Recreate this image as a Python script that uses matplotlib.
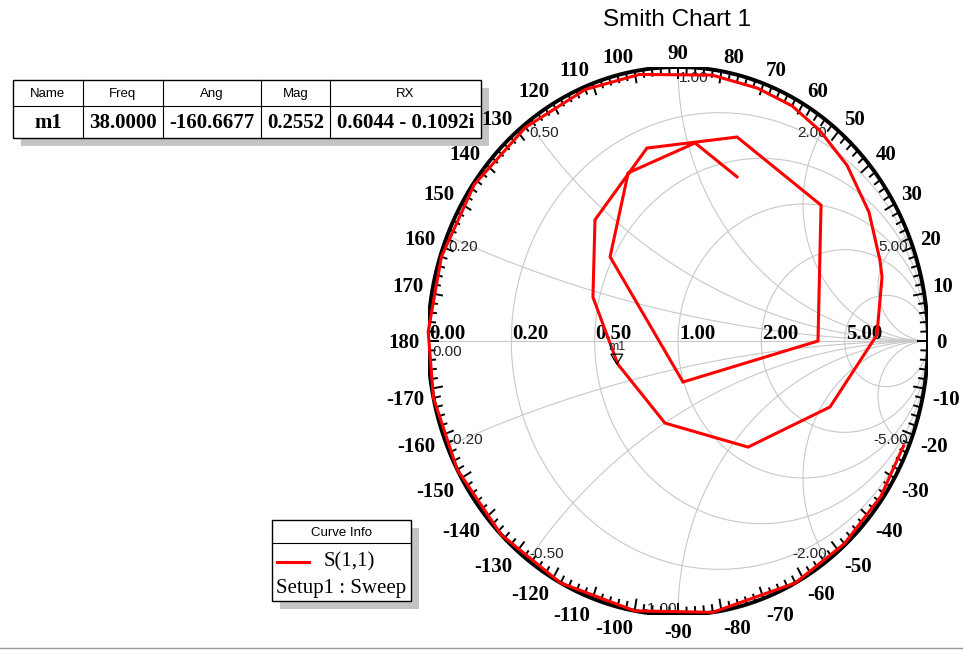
import numpy as np
import matplotlib.pyplot as plt
from matplotlib.patches import Rectangle, Polygon
from matplotlib.collections import LineCollection

# S(1,1) trace, vertices (|S11|, angle in degrees)
s11_mag = [0.98, 0.99, 0.995, 1.0, 1.0, 1.0, 1.0, 1.0, 1.0, 1.0, 1.0, 0.995, 0.995,
           0.99, 0.99, 0.985, 0.98, 0.976, 0.972, 0.955, 0.932, 0.897, 0.86, 0.849,
           0.796, 0.654, 0.478, 0.304, 0.2552, 0.376, 0.553, 0.715, 0.781, 0.757,
           0.56, 0.151, 0.41, 0.645, 0.726, 0.644]
s11_ang = [-23, -35, -48, -62, -82, -100, -118, -135, -152, -168, 178, 162, 145,
           128, 112, 99, 82, 71, 62, 53.6, 43.5, 31.6, 20.1, 16,
           1.6, -21.6, -54.1, -99.9, -160.6677, 154.8, 126.9, 100, 72.4, 40.9,
           0, -82.4, 131.5, 108, 84.6, 68.5]

# marker m1
m1_mag = 0.2552
m1_ang = -160.6677

# marker table
table_header = ["Name", "Freq", "Ang", "Mag", "RX"]
table_row = ["m1", "38.0000", "-160.6677", "0.2552", "0.6044 - 0.1092i"]

# smith grid
r_vals = [0.2, 0.5, 1.0, 2.0, 5.0]
x_vals = [0.2, 0.5, 1.0, 2.0, 5.0, -0.2, -0.5, -1.0, -2.0, -5.0]
angle_labels = list(range(-170, 190, 10))

W, H = 970, 650
cx, cy, rx, ry = 678, 341, 250, 274
GRID = '#c8c8c8'
SANS = 'Liberation Sans'
SERIF = 'Liberation Serif'

fig = plt.figure(figsize=(W / 100, H / 100), dpi=100)

# overlay in pixel coords for table, legend, title
ax0 = fig.add_axes([0, 0, 1, 1])
ax0.set_xlim(0, W)
ax0.set_ylim(H, 0)
ax0.axis('off')

ax0.text(677, 20, "Smith Chart 1", ha='center', va='center', fontsize=17.5, family=SANS)
ax0.plot([0, 962], [648, 648], color='#9a9a9a', lw=1)

# marker table
col_x = [13, 83, 163, 261, 330, 481]
t_top, t_mid, t_bot = 80, 106, 138
ax0.add_patch(Rectangle((col_x[0] + 8, t_top + 8), col_x[-1] - col_x[0], t_bot - t_top,
                        facecolor='#c4c4c4', edgecolor='none'))
ax0.add_patch(Rectangle((col_x[0], t_top), col_x[-1] - col_x[0], t_bot - t_top,
                        facecolor='white', edgecolor='black', lw=1))
ax0.plot([col_x[0], col_x[-1]], [t_mid, t_mid], color='black', lw=0.8)
for xc in col_x[1:-1]:
    ax0.plot([xc, xc], [t_top, t_bot], color='black', lw=0.8)
for i in range(len(table_header)):
    xm = (col_x[i] + col_x[i + 1]) / 2
    ax0.text(xm, (t_top + t_mid) / 2 + 1, table_header[i], ha='center', va='center',
             fontsize=9.5, family=SANS)
    ax0.text(xm, (t_mid + t_bot) / 2 + 1, table_row[i], ha='center', va='center',
             fontsize=15, family=SERIF, fontweight='bold')

# curve info box
l_x0, l_x1, l_top, l_mid, l_bot = 272, 411, 520, 543, 601
ax0.add_patch(Rectangle((l_x0 + 8, l_top + 8), l_x1 - l_x0, l_bot - l_top,
                        facecolor='#c4c4c4', edgecolor='none'))
ax0.add_patch(Rectangle((l_x0, l_top), l_x1 - l_x0, l_bot - l_top,
                        facecolor='white', edgecolor='black', lw=1))
ax0.plot([l_x0, l_x1], [l_mid, l_mid], color='black', lw=0.8)
ax0.text((l_x0 + l_x1) / 2, (l_top + l_mid) / 2 + 1, "Curve Info", ha='center',
         va='center', fontsize=9.5, family=SANS)
ax0.plot([277, 309], [562, 562], color='red', lw=2.2)
ax0.text(349, 562, "S(1,1)", ha='center', va='center', fontsize=15, family=SERIF)
ax0.text(341, 588, "Setup1 : Sweep", ha='center', va='center', fontsize=15, family=SERIF)

# smith chart axes, elliptical like the reference
ax = fig.add_axes([(cx - rx) / W, 1 - (cy + ry) / H, 2 * rx / W, 2 * ry / H])
ax.set_xlim(-1, 1)
ax.set_ylim(-1, 1)
ax.axis('off')

t = np.linspace(0, 2 * np.pi, 721)
for r in r_vals:
    c0, rad = r / (1 + r), 1 / (1 + r)
    ax.plot(c0 + rad * np.cos(t), rad * np.sin(t), color=GRID, lw=0.8, zorder=1)
rr = np.concatenate([[0], np.logspace(-3, 3.5, 600)])
for x in x_vals:
    g = (rr + 1j * x - 1) / (rr + 1j * x + 1)
    ax.plot(g.real, g.imag, color=GRID, lw=0.8, zorder=1)
ax.plot([-1, 1], [0, 0], color=GRID, lw=0.8, zorder=1)

# resistance labels on the real axis
for r in [0.0] + r_vals:
    gx = (r - 1) / (r + 1)
    ax.annotate(f"{r:.2f}", (gx, 0), xytext=(1, 2), textcoords='offset pixels',
                ha='left', va='baseline', fontsize=15, family=SERIF, fontweight='bold',
                zorder=4)

# reactance labels at the rim
ax.annotate("0.00", (-1, 0), xytext=(4, -4), textcoords='offset pixels', ha='left',
            va='top', fontsize=11, family=SANS, color='#222222', zorder=4)
for x in x_vals:
    gx = (x * x - 1) / (x * x + 1)
    gy = 2 * x / (x * x + 1)
    if gx < -0.01:
        ha = 'left'
    elif gx > 0.01:
        ha = 'right'
    else:
        ha = 'left' if x > 0 else 'right'
    va = 'top' if x > 0 else 'baseline'
    dy = -4 if x > 0 else 2
    dx = 1 if ha == 'left' else -1
    ax.annotate(f"{x:.2f}", (gx, gy), xytext=(dx, dy), textcoords='offset pixels',
                ha=ha, va=va, fontsize=11, family=SANS, color='#222222', zorder=4)

# outer ring with inward ticks
ax.plot(np.cos(t), np.sin(t), color='black', lw=2.8, zorder=3)
segs = []
for a in range(0, 360, 2):
    th = np.deg2rad(a)
    ln = 0.045 if a % 10 == 0 else 0.03
    segs.append([(np.cos(th), np.sin(th)), ((1 - ln) * np.cos(th), (1 - ln) * np.sin(th))])
ax.add_collection(LineCollection(segs, colors='black', lw=1.4, zorder=3))

# angle labels
for a in angle_labels:
    th = np.deg2rad(a)
    c, s = np.cos(th), np.sin(th)
    if abs(a) == 90:
        ha = 'center'
    else:
        ha = 'left' if c > 0 else 'right'
    if a == 0 or a == 180:
        va = 'center_baseline'
    else:
        va = 'baseline' if s > 0 else 'top'
    ax.annotate(str(a), (c, s), xytext=(8 * c, 8 * s), textcoords='offset pixels',
                ha=ha, va=va, fontsize=15, family=SERIF, fontweight='bold',
                annotation_clip=False, zorder=4)

# S(1,1) curve
mag = np.array(s11_mag)
ang = np.deg2rad(s11_ang)
ax.plot(mag * np.cos(ang), mag * np.sin(ang), color='#ff0000', lw=2.2, zorder=5,
        solid_joinstyle='miter', clip_on=False)

# marker m1
mx = m1_mag * np.cos(np.deg2rad(m1_ang))
my = m1_mag * np.sin(np.deg2rad(m1_ang))
hw, ht = 6 / rx, 10 / ry
ax.add_patch(Polygon([(mx - 1 / rx, my), (mx - 1 / rx - hw, my + ht), (mx - 1 / rx + hw, my + ht)],
                     closed=True, facecolor='none', edgecolor='black', lw=0.9, zorder=6))
ax.annotate("m1", (mx, my + ht), xytext=(-1, 1), textcoords='offset pixels', ha='center',
            va='bottom', fontsize=9, family=SANS, color='#222222', zorder=6)

fig.savefig('out.png', dpi=100)
